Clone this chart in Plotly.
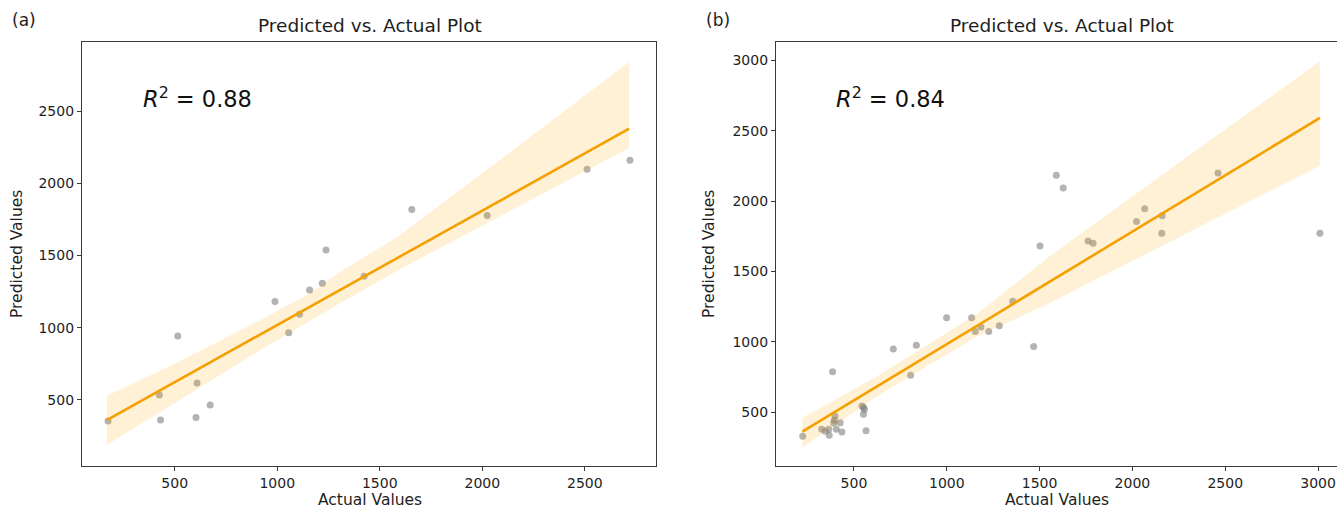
import plotly.graph_objects as go

# ---------------- data ----------------
# Panel (a)
a_actual = [175, 425, 431, 515, 609, 604, 673, 989, 1056, 1109, 1158, 1220, 1238, 1424, 1656, 2024, 2511, 2720]
a_pred = [355, 535, 361, 943, 618, 378, 465, 1181, 966, 1094, 1262, 1308, 1539, 1357, 1819, 1777, 2098, 2160]
a_fit_x = [169, 2716]
a_fit_y = [361, 2378]
a_band_x = [169, 500, 900, 1150, 1300, 1598, 2000, 2400, 2716]
a_band_lo = [188, 480, 830, 1040, 1165, 1405, 1708, 2009, 2245]
a_band_hi = [530, 750, 1040, 1230, 1380, 1640, 2070, 2500, 2840]
a_r2 = "0.88"

# Panel (b)
b_actual = [224, 326, 345, 364, 367, 385, 391, 394, 398, 405, 426, 435, 543, 552, 556, 551, 565,
            712, 805, 836, 999, 1134, 1153, 1184, 1226, 1283, 1355, 1468, 1502, 1590, 1627,
            1761, 1788, 2022, 2066, 2160, 2158, 2461, 3010]
b_pred = [329, 379, 364, 379, 336, 788, 424, 443, 474, 379, 426, 359, 545, 533, 519, 486, 369,
          950, 762, 976, 1171, 1171, 1073, 1105, 1073, 1114, 1288, 967, 1681, 2183, 2092,
          1717, 1700, 1855, 1945, 1895, 1771, 2199, 1771]
b_fit_x = [222, 3010]
b_fit_y = [362, 2591]
b_band_x = [222, 620, 1157, 1556, 1789, 2200, 2600, 3010]
b_band_lo = [250, 610, 1034, 1276, 1434, 1708, 1976, 2251]
b_band_hi = [460, 752, 1193, 1609, 1834, 2224, 2605, 2993]
b_r2 = "0.84"

x_ticks = [500, 1000, 1500, 2000, 2500, 3000]
a_y_ticks = [500, 1000, 1500, 2000, 2500]
b_y_ticks = [500, 1000, 1500, 2000, 2500, 3000]

# ---------------- styling ----------------
FONT = "DejaVu Sans"
TXT = "#1e1e1e"
SPINE = "#3a3a3a"
PT_COLOR = "rgba(128,128,128,0.6)"
LINE_COLOR = "#F5A000"
BAND_COLOR = "rgba(255,165,0,0.16)"

W, H = 1337, 512
fig = go.Figure()


def add_panel(xs, ys, fx, fy, bx, blo, bhi, xa, ya):
    fig.add_trace(go.Scatter(x=xs, y=ys, mode="markers", xaxis=xa, yaxis=ya,
                             marker=dict(size=7, color=PT_COLOR, line=dict(width=0)),
                             showlegend=False, hoverinfo="skip"))
    fig.add_trace(go.Scatter(x=bx, y=blo, mode="lines", xaxis=xa, yaxis=ya,
                             line=dict(width=0, color=BAND_COLOR), showlegend=False,
                             hoverinfo="skip"))
    fig.add_trace(go.Scatter(x=bx, y=bhi, mode="lines", xaxis=xa, yaxis=ya,
                             line=dict(width=0, color=BAND_COLOR), fill="tonexty",
                             fillcolor=BAND_COLOR, showlegend=False, hoverinfo="skip"))
    fig.add_trace(go.Scatter(x=fx, y=fy, mode="lines", xaxis=xa, yaxis=ya,
                             line=dict(width=2.6, color=LINE_COLOR), showlegend=False,
                             hoverinfo="skip"))


add_panel(a_actual, a_pred, a_fit_x, a_fit_y, a_band_x, a_band_lo, a_band_hi, "x", "y")
add_panel(b_actual, b_pred, b_fit_x, b_fit_y, b_band_x, b_band_lo, b_band_hi, "x2", "y2")

y_bot = (H - 466) / H
y_top = (H - 42) / H
ax_common = dict(showgrid=False, zeroline=False, showline=True, linecolor=SPINE, linewidth=1.2,
                 ticks="outside", ticklen=4, tickwidth=1, tickcolor=SPINE,
                 tickfont=dict(family=FONT, size=14, color=TXT))

fig.update_layout(
    width=W, height=H, margin=dict(l=0, r=0, t=0, b=0),
    paper_bgcolor="white", plot_bgcolor="white",
    xaxis=dict(domain=[82 / W, 656 / W], range=[48, 2847], tickvals=x_ticks[:5], mirror=True,
               anchor="y", **ax_common),
    yaxis=dict(domain=[y_bot, y_top], range=[43, 2978], tickvals=a_y_ticks, mirror=True,
               anchor="x", **ax_common),
    xaxis2=dict(domain=[776 / W, 1.0], range=[80, 3102], tickvals=x_ticks, mirror=True,
                anchor="y2", **ax_common),
    yaxis2=dict(domain=[y_bot, y_top], range=[118, 3130], tickvals=b_y_ticks, mirror=False,
                anchor="x2", **ax_common),
)

ann = []
title_font = dict(family=FONT, size=18.5, color=TXT)
letter_font = dict(family=FONT, size=17, color=TXT)
lab_font = dict(family=FONT, size=15.5, color=TXT)
# titles
ann.append(dict(text="Predicted vs. Actual Plot", x=370 / W, y=1 - 25 / H, xref="paper", yref="paper",
                showarrow=False, font=title_font, xanchor="center", yanchor="middle"))
ann.append(dict(text="Predicted vs. Actual Plot", x=1062 / W, y=1 - 25 / H, xref="paper", yref="paper",
                showarrow=False, font=title_font, xanchor="center", yanchor="middle"))
# panel letters
ann.append(dict(text="(a)", x=10 / W, y=1 - 20 / H, xref="paper", yref="paper", showarrow=False,
                font=letter_font, xanchor="left", yanchor="middle"))
ann.append(dict(text="(b)", x=704 / W, y=1 - 20 / H, xref="paper", yref="paper", showarrow=False,
                font=letter_font, xanchor="left", yanchor="middle"))
# axis titles
ann.append(dict(text="Actual Values", x=370 / W, y=1 / H, xref="paper", yref="paper",
                showarrow=False, font=lab_font, xanchor="center", yanchor="bottom"))
ann.append(dict(text="Actual Values", x=1057 / W, y=1 / H, xref="paper", yref="paper",
                showarrow=False, font=lab_font, xanchor="center", yanchor="bottom"))
ann.append(dict(text="Predicted Values", x=17 / W, y=(y_bot + y_top) / 2, xref="paper", yref="paper",
                showarrow=False, font=lab_font, textangle=-90, xanchor="center", yanchor="middle"))
ann.append(dict(text="Predicted Values", x=709 / W, y=(y_bot + y_top) / 2, xref="paper", yref="paper",
                showarrow=False, font=lab_font, textangle=-90, xanchor="center", yanchor="middle"))
# R^2
r2_font = dict(family=FONT, size=22.5, color="#111111")
ann.append(dict(text="<i>R</i><sup>2</sup> = " + a_r2, x=141 / W, y=1 - 97 / H, xref="paper",
                yref="paper", showarrow=False, font=r2_font, xanchor="left", yanchor="middle"))
ann.append(dict(text="<i>R</i><sup>2</sup> = " + b_r2, x=834 / W, y=1 - 97 / H, xref="paper",
                yref="paper", showarrow=False, font=r2_font, xanchor="left", yanchor="middle"))
fig.update_layout(annotations=ann)

fig.write_html("out.html", config={"displayModeBar": False},
               post_script="document.body.style.margin='0px';document.body.style.padding='0px';")
